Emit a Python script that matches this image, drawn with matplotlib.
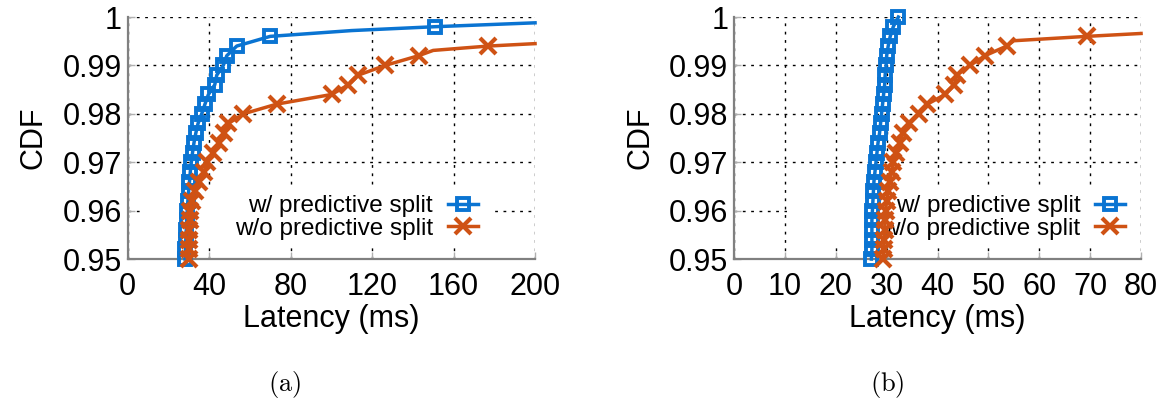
import numpy as np
import matplotlib.pyplot as plt
from matplotlib.patches import Rectangle

plt.rcParams['font.family'] = ['Liberation Sans', 'DejaVu Sans']
plt.rcParams['mathtext.fontset'] = 'cm'

# CDF levels (markers every 0.002) and latencies
# (a) latency up to 200 ms
a_with_cdf = [0.950, 0.952, 0.954, 0.956, 0.958, 0.960, 0.962, 0.964, 0.966, 0.968,
              0.970, 0.972, 0.974, 0.976, 0.978, 0.980, 0.982, 0.984, 0.986, 0.988,
              0.990, 0.992, 0.994, 0.996, 0.9972, 0.998, 0.9988]
a_with_lat = [28.2, 28.4, 28.6, 28.8, 29.0, 29.3, 29.6, 30.0, 30.4, 30.8,
              31.3, 31.9, 32.6, 33.5, 34.6, 36.4, 38.0, 39.7, 42.8, 43.8,
              47.0, 48.7, 53.6, 70.0, 110.0, 151.0, 200.0]
a_without_cdf = [0.950, 0.952, 0.954, 0.956, 0.958, 0.960, 0.962, 0.964, 0.966, 0.968,
                 0.970, 0.972, 0.974, 0.976, 0.978, 0.980, 0.982, 0.984, 0.986, 0.988,
                 0.990, 0.992, 0.9931, 0.994, 0.9945]
a_without_lat = [30.0, 30.1, 30.2, 30.3, 30.5, 30.8, 31.5, 33.0, 35.3, 37.5,
                 39.2, 42.0, 45.1, 47.1, 49.5, 56.9, 73.2, 100.2, 108.4, 113.3,
                 126.4, 142.8, 150.0, 177.0, 200.0]

# (b) latency up to 80 ms
b_with_cdf = [0.950, 0.952, 0.954, 0.956, 0.958, 0.960, 0.962, 0.964, 0.966, 0.968,
              0.970, 0.972, 0.974, 0.976, 0.978, 0.980, 0.982, 0.984, 0.986, 0.988,
              0.990, 0.992, 0.994, 0.996, 0.998, 1.000]
b_with_lat = [27.0, 27.1, 27.1, 27.1, 27.1, 27.2, 27.3, 27.4, 27.5, 27.7,
              27.9, 28.1, 28.3, 28.6, 28.8, 29.0, 29.2, 29.4, 29.6, 29.7,
              29.9, 30.0, 30.3, 30.7, 31.3, 32.3]
b_without_cdf = [0.950, 0.952, 0.954, 0.956, 0.958, 0.960, 0.962, 0.964, 0.966, 0.968,
                 0.970, 0.972, 0.974, 0.976, 0.978, 0.980, 0.982, 0.984, 0.986, 0.988,
                 0.990, 0.992, 0.994, 0.9951, 0.996, 0.9966]
b_without_lat = [29.3, 29.4, 29.5, 29.6, 29.7, 29.8, 30.0, 30.3, 30.6, 31.0,
                 31.3, 31.9, 32.6, 33.2, 34.4, 36.4, 38.0, 41.5, 43.3, 43.8,
                 46.4, 49.3, 53.6, 55.0, 69.3, 80.0]

labels = ['w/ predictive split', 'w/o predictive split']
blue = '#0a74d2'
orange = '#cf5214'
y_ticks = [0.95, 0.96, 0.97, 0.98, 0.99, 1.0]
y_ticklabels = ['0.95', '0.96', '0.97', '0.98', '0.99', '1']


def marked(cdf):
    # markers sit on the 0.002 CDF steps
    return [i for i, c in enumerate(cdf) if abs(c * 500 - round(c * 500)) < 1e-6]


fig = plt.figure(figsize=(11.69, 4.09), dpi=100)
ax_a = fig.add_axes([0.1091, 0.3667, 0.3486, 0.5917])
ax_b = fig.add_axes([0.6279, 0.3667, 0.3482, 0.5917])

panels = [
    (ax_a, a_with_lat, a_with_cdf, a_without_lat, a_without_cdf, 200, [0, 40, 80, 120, 160, 200], 0.031, 0.860),
    (ax_b, b_with_lat, b_with_cdf, b_without_lat, b_without_cdf, 80, list(range(0, 81, 10)), 0.131, 0.961),
]

for ax, wl, wc, ol, oc, xmax, xt, box_x, leg_x in panels:
    ax.plot(wl, wc, color=blue, lw=2.5, marker='s', ms=8, mew=2.8, mfc='none',
            markevery=marked(wc), clip_on=False, zorder=3, label=labels[0])
    ax.plot(ol, oc, color=orange, lw=2.5, marker='x', ms=11, mew=3.0,
            markevery=marked(oc), clip_on=False, zorder=3, label=labels[1])
    ax.set_xlim(0, xmax)
    ax.set_ylim(0.95, 1.0)
    ax.set_xticks(xt)
    ax.set_yticks(y_ticks)
    ax.set_yticklabels(y_ticklabels)
    ax.set_axisbelow(True)
    ax.grid(True, color='black', lw=1.0, linestyle=(0, (2, 4)))
    for side in ['top', 'right']:
        ax.spines[side].set_visible(False)
    for side in ['left', 'bottom']:
        ax.spines[side].set_color('#808080')
        ax.spines[side].set_linewidth(1.6)
    ax.tick_params(direction='in', length=5, width=1, color='#b0b0b0', labelsize=22)
    ax.tick_params(axis='x', pad=9)
    ax.tick_params(axis='y', pad=4)
    ax.set_xlabel('Latency (ms)', fontsize=22, labelpad=2)
    ax.set_ylabel('CDF', fontsize=22, labelpad=10)
    ax.add_patch(Rectangle((box_x, 0.066), 0.866, 0.232, transform=ax.transAxes,
                           facecolor='white', edgecolor='none', zorder=1))
    leg = ax.legend(loc='upper right', bbox_to_anchor=(leg_x, 0.264), frameon=False,
                    markerfirst=False, fontsize=17.5, handlelength=1.25, handletextpad=0.6,
                    labelspacing=0.02, borderpad=0, borderaxespad=0)
    leg.set_zorder(2)

fig.text(285 / 1169, 1 - 384 / 409, r'$\mathrm{(a)}$', fontsize=19, ha='center', va='center')
fig.text(887 / 1169, 1 - 384 / 409, r'$\mathrm{(b)}$', fontsize=19, ha='center', va='center')

fig.savefig('out.png', dpi=100)
